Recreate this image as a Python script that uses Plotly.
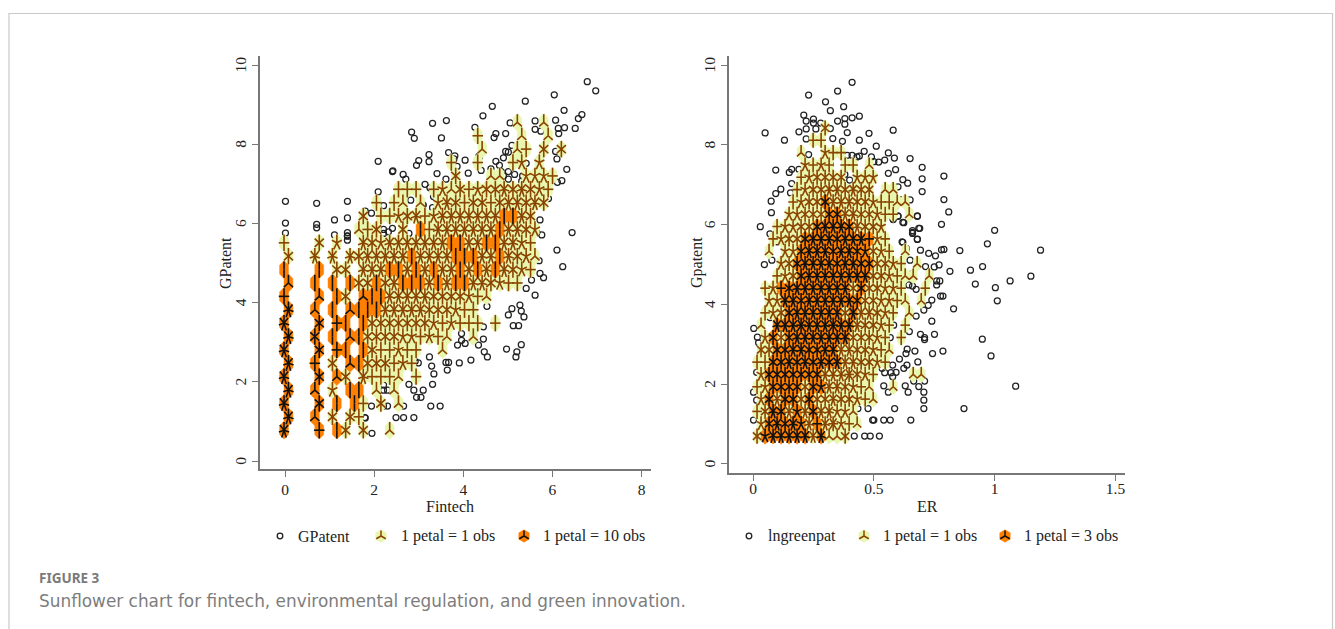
import math
import plotly.graph_objects as go

# ---------- data ----------
# Each row string is one horizontal row of sunflower cells, bottom row first.
# digit = light cell with that many petals, letter = dark cell (a=1, b=2, ... g=7), dot = empty.
LEFT_ROWS = [
    "g...d.b6.6..3",
    "g..c.6.64",
    "g...f.b.b4.6.3",
    "g..c.5.bb.3.3",
    "g...f.c6.74443.4",
    "g..d.6.cb666454",
    "g...f.db.b644544..3",
    "g..f.b.cb6666554543..3",
    "g...f.db.b6666666545444.4",
    "g..c.b.cbbb77777666544",
    "d...c.b6.cbb777776666543",
    "c..b.b.b66b67bbb7b7bb776544",
    "b...b.66.777bb7b7b77b7b7b7654",
    "6..7.7.7677777b7777bbb77b7653",
    "4...6.5..7657777777bb77bb7754",
    "........346..6.b47777777b7765",
    ".........6.4456745" + "7777777bb76",
    "..........4.43.3.5" + "76466" + "4677676",
    ".............444.453" + "64566767654",
    "..................." + "6...33..5554",
    "...................4..4...45.5",
    "......................3...34.6.6",
    "......................4....3..3",
    "..........................3..3",
]
RIGHT_ROWS = [
    "6eggggg7g336",
    "5fgfge7d78543",
    "46gf7e7f77553",
    "5f7ff6f66766543",
    "45ffff6fe776543..3",
    "5fffffff7778654....33",
    "44ffgfgfgfg776654",
    "66ffggffgg7766543",
    ".5f6fggggggg66654.4",
    "3.ggghggghgg76654.4",
    ".456fgggggg6g77654.3",
    ".55ggfggggggf665543.3",
    ".45dfggggggg6f66554..4",
    "..456fgggggggg665433.3",
    "...56fggggfggff6654.3",
    ".3.55fgggfggfe654.3",
    "..4566fgggfgggd54",
    "..45566fgggf7665",
    "....55666ff7766544.3",
    "....4566f7776654433",
    ".....4566776766.33",
    ".....456666.555",
    "......5454.44.3",
    ".....3..544",
    ".......44",
    "........6",
]
LEFT_POINTS = [
    (6.78,9.58),(6.97,9.35),(6.04,9.25),(5.39,9.09),(4.65,8.96),(4.44,8.72),(6.26,8.86),(6.66,8.75),(6.58,8.65),
    (6.07,8.61),(5.61,8.59),(5.05,8.54),(3.62,8.60),(3.31,8.53),(2.84,8.31),(2.90,8.15),(3.51,8.16),(4.26,8.43),
    (4.73,8.27),(4.69,8.17),(4.95,8.27),(5.61,8.38),(5.74,8.33),(6.13,8.40),(6.27,8.42),(6.51,8.40),(6.14,8.27),
    (5.09,7.97),(4.95,7.82),(5.01,7.80),(4.90,7.66),(6.07,7.82),(6.10,7.63),(6.32,7.37),(6.21,7.08),(6.11,7.04),
    (3.67,7.79),(3.81,7.71),(3.23,7.74),(3.23,7.56),(3.00,7.59),(2.95,7.47),(2.09,7.57),(2.41,7.31),(2.42,7.33),
    (2.65,7.24),(2.71,7.12),(3.41,7.26),(3.86,7.44),(4.04,7.60),(3.79,7.63),(4.35,7.70),(4.36,7.68),(4.73,7.57),
    (4.81,7.47),(4.62,7.38),(4.40,7.34),(4.11,7.27),(4.85,7.31),(5.01,7.31),(4.90,7.20),(5.01,7.12),(5.15,7.24),
    (5.33,7.20),(5.31,7.07),(5.41,7.52),(3.61,7.12),(2.09,6.80),(1.40,6.56),(2.71,6.86),(3.25,6.90),(3.14,6.99),
    (3.33,6.68),(2.82,6.59),(3.10,6.47),(3.09,6.46),(3.31,6.40),(2.21,6.45),(1.80,6.31),(1.94,6.26),(1.40,6.14),
    (2.21,5.85),(2.21,5.75),(2.32,5.79),(2.41,5.88),(1.40,5.77),(1.40,5.69),(1.40,5.58),(2.78,5.75),(2.71,5.41),
    (4.90,6.87),(5.91,6.63),(5.81,6.51),(5.72,6.09),(5.65,5.77),(5.76,5.71),(6.44,5.77),(6.10,5.33),(5.70,5.06),
    (6.23,4.91),(5.72,4.74),(5.80,4.63),(5.53,4.57),(5.41,4.36),(5.61,4.19),(5.27,3.94),(5.09,3.85),(5.01,3.69),
    (5.30,3.79),(5.36,3.64),(5.12,3.42),(5.24,3.42),(4.53,3.91),(4.26,3.60),(4.23,3.42),(4.45,3.39),(4.45,3.08),
    (3.55,3.25),(3.96,3.22),(3.96,3.05),(4.04,2.97),(3.87,2.93),(4.34,2.93),(4.47,2.76),(4.54,2.63),(4.97,2.83),
    (5.20,2.76),(5.30,2.94),(5.18,2.63),(4.17,2.55),(3.91,2.48),(3.67,2.49),(3.61,2.49),(3.64,2.30),(3.24,2.63),
    (2.66,2.70),(2.92,2.52),(2.99,2.48),(3.29,2.40),(3.34,2.20),(3.31,1.94),(2.78,1.94),(1.94,2.19),(2.89,1.79),
    (3.10,1.79),(2.21,1.79),(2.30,1.79),(2.21,1.92),(2.95,1.61),(3.05,1.61),(2.30,1.39),(2.66,1.39),(1.94,1.39),
    (2.21,1.39),(3.27,1.39),(3.48,1.39),(1.79,1.10),(2.49,1.10),(2.66,1.10),(2.89,1.10),(1.95,0.70),(1.80,1.09),
    (0.01,6.56),(0.01,6.01),(0.01,5.76),(0.71,6.51),(0.71,5.98),(0.71,5.89),(1.11,6.09),(1.11,5.71),(1.40,5.68),
]
RIGHT_POINTS = [
    (0.41,9.57),(0.35,9.35),(0.23,9.25),(0.30,9.08),(0.375,8.96),(0.32,8.86),(0.21,8.75),(0.44,8.72),(0.41,8.68),
    (0.38,8.66),(0.35,8.60),(0.25,8.65),(0.22,8.60),(0.25,8.55),(0.28,8.55),(0.38,8.52),(0.22,8.40),(0.19,8.33),
    (0.26,8.40),(0.32,8.41),(0.05,8.30),(0.39,8.31),(0.48,8.29),(0.58,8.37),(0.22,8.15),(0.33,8.16),(0.37,8.09),
    (0.13,8.12),(0.44,8.12),(0.51,7.97),(0.46,7.84),(0.56,7.80),(0.39,7.74),(0.41,7.74),(0.43,7.70),(0.44,7.72),
    (0.49,7.70),(0.50,7.58),(0.52,7.57),(0.545,7.62),(0.585,7.67),(0.65,7.66),(0.70,7.44),(0.59,7.38),(0.56,7.29),
    (0.70,7.15),(0.79,7.22),(0.62,7.13),(0.64,7.04),(0.70,6.83),(0.79,6.63),(0.81,6.32),(0.78,6.01),(1.00,5.86),
    (0.97,5.52),(0.68,6.22),(0.69,5.91),(0.66,5.85),(0.66,5.78),(0.68,5.64),(0.62,5.56),(0.62,6.06),(0.60,6.22),
    (0.58,6.14),(0.59,6.47),(0.65,6.62),(0.53,6.45),(0.52,6.16),(0.60,6.95),(0.61,6.62),(0.094,7.37),(0.15,7.31),
    (0.16,7.39),(0.19,7.39),(0.16,7.03),(0.115,6.89),(0.094,6.78),(0.155,6.80),(0.075,6.59),(0.076,6.30),(0.03,5.95),
    (0.07,5.77),(0.10,5.57),(0.23,7.76),(0.32,7.51),(0.40,7.12),(0.38,7.26),(1.19,5.36),(0.047,5.0),(0.078,5.11),
    (0.053,4.40),(0.057,4.40),(0.057,3.89),(0.07,3.67),(0.003,3.40),(0.018,3.18),(0.023,3.04),(0.043,2.84),(0.015,2.30),
    (0.002,1.80),(0.015,1.60),(0.002,1.10),(0.856,5.35),(0.79,5.38),(0.78,5.37),(0.727,5.28),(0.755,5.22),(0.815,4.83),
    (0.90,4.86),(0.95,4.95),(1.064,4.59),(1.15,4.71),(0.92,4.51),(1.003,4.42),(1.011,4.09),(0.83,3.89),(0.949,3.13),
    (0.985,2.71),(1.087,1.95),(0.873,1.39),(0.786,2.83),(0.743,2.77),(0.74,3.58),(0.751,3.25),(0.693,3.25),(0.71,3.17),
    (0.71,3.12),(0.66,5.81),(0.686,5.91),(0.68,5.63),(0.617,5.57),(0.635,5.40),(0.693,5.36),(0.60,6.21),(0.59,6.46),
    (0.58,6.13),(0.624,6.05),(0.68,6.21),(0.65,5.11),(0.714,4.95),(0.75,4.94),(0.77,4.99),(0.66,4.78),(0.76,4.59),
    (0.773,4.59),(0.76,4.49),(0.645,4.49),(0.66,4.46),(0.675,4.38),(0.61,4.11),(0.62,4.11),(0.74,4.11),(0.776,4.21),
    (0.786,4.21),(0.725,3.98),(0.707,3.86),(0.675,3.71),(0.582,3.48),(0.647,3.32),(0.568,3.17),(0.638,2.88),(0.67,2.83),
    (0.633,2.77),(0.606,2.63),(0.682,2.56),(0.578,2.48),(0.637,2.48),(0.624,2.40),(0.465,2.30),(0.534,2.40),(0.545,2.29),
    (0.571,2.29),(0.592,2.30),(0.578,2.19),(0.665,2.08),(0.71,2.08),(0.541,1.96),(0.63,1.96),(0.686,1.94),(0.56,1.80),
    (0.642,1.80),(0.707,1.80),(0.465,1.60),(0.707,1.60),(0.434,1.39),(0.476,1.39),(0.586,1.39),(0.707,1.39),(0.495,1.10),
    (0.50,1.10),(0.541,1.10),(0.568,1.10),(0.653,1.10),(0.419,0.70),(0.462,0.70),(0.485,0.70),(0.523,0.70),
]
LEFT_XTICKS = [0, 2, 4, 6, 8]
RIGHT_XTICKS = [0, 0.5, 1, 1.5]
RIGHT_XLABELS = ["0", "0.5", "1", "1.5"]
YTICKS = [0, 2, 4, 6, 8, 10]
LEFT_LEGEND = ["GPatent", "1 petal = 1 obs", "1 petal = 10 obs"]
RIGHT_LEGEND = ["lngreenpat", "1 petal = 1 obs", "1 petal = 3 obs"]

# ---------- styles ----------
W, H = 1335, 629
LIGHT, DARK = "#E9F6AE", "#FF8000"
BROWN, BLACK = "#8A4300", "#111111"
AXIS = "#777777"
TEXT = "#222222"
SERIF = "Liberation Serif"
SANS = "DejaVu Sans"

LEFT_BOX = dict(x0=260, x1=651, y0=56, y1=469)
RIGHT_BOX = dict(x0=729, x1=1124.5, y0=56, y1=473)
LEFT_RANGE = dict(x=(-0.561, 8.21), y=(-0.2, 10.23))
RIGHT_RANGE = dict(x=(-0.0995, 1.5375), y=(-0.226, 10.23))
# lattice: origin, same-row spacing, row spacing (data units)
LEFT_GRID = dict(x0=-0.022, dx=0.1975, y0=0.78, dy=0.338)
RIGHT_GRID = dict(x0=0.0166, dx=0.03315, y0=0.70, dy=0.309)


def cells(rows, grid):
    """Expand the row strings into cell centres and petal counts."""
    out = []
    for j, row in enumerate(rows):
        for k, ch in enumerate(row):
            if ch == ".":
                continue
            x = grid["x0"] + grid["dx"] * (k + 0.5 * (j % 2))
            y = grid["y0"] + grid["dy"] * j
            if ch.isdigit():
                out.append((x, y, int(ch), False))
            else:
                out.append((x, y, ord(ch) - 96, True))
    return out


def hex_path(c, w, h):
    xs, ys = [], []
    for dx, dy in [(0, .5), (.5, .25), (.5, -.25), (0, -.5), (-.5, -.25), (-.5, .25), (0, .5)]:
        xs.append(c[0] + dx * w)
        ys.append(c[1] + dy * h)
    return xs + [None], ys + [None]


def petal_path(c, n, a, b):
    xs, ys = [], []
    for i in range(n):
        t = math.pi / 2 + 2 * math.pi * i / n
        xs += [c[0], c[0] + a * math.cos(t), None]
        ys += [c[1], c[1] + b * math.sin(t), None]
    return xs, ys


fig = go.Figure()


def panel(rows, points, grid, xa, ya):
    w, h = grid["dx"], grid["dy"] / 0.75
    cs = cells(rows, grid)
    fig.add_trace(go.Scatter(x=[p[0] for p in points], y=[p[1] for p in points], mode="markers",
                             marker=dict(symbol="circle-open", size=6, color=TEXT, line=dict(width=1.25, color=TEXT)),
                             xaxis=xa, yaxis=ya, showlegend=False, hoverinfo="skip"))
    for dark, color in [(False, LIGHT), (True, DARK)]:
        X, Y = [], []
        for c in cs:
            if c[3] == dark:
                a, b = hex_path(c, w, h)
                X += a
                Y += b
        fig.add_trace(go.Scatter(x=X, y=Y, mode="lines", fill="toself", fillcolor=color,
                                 line=dict(width=0.5, color=color), xaxis=xa, yaxis=ya,
                                 showlegend=False, hoverinfo="skip"))
    for dark, color in [(False, BROWN), (True, BLACK)]:
        X, Y = [], []
        for c in cs:
            if c[3] == dark:
                a, b = petal_path(c, c[2], 0.6 * w, 0.46 * h)
                X += a
                Y += b
        fig.add_trace(go.Scatter(x=X, y=Y, mode="lines", line=dict(width=1.6, color=color),
                                 xaxis=xa, yaxis=ya, showlegend=False, hoverinfo="skip",
                                 connectgaps=False))


panel(LEFT_ROWS, LEFT_POINTS, LEFT_GRID, "x", "y")
panel(RIGHT_ROWS, RIGHT_POINTS, RIGHT_GRID, "x2", "y2")


def fx(v):
    return v / W


def fy(v):
    return 1 - v / H


shapes = [dict(type="path", xref="paper", yref="paper",
               path=f"M {fx(9)} {fy(629)} L {fx(9)} {fy(13.5)} L {fx(1332.5)} {fy(13.5)} L {fx(1332.5)} {fy(629)}",
               line=dict(color="#C9C9C9", width=1.2))]
annotations = []


def label(text, x, y, family, size, color, xanchor="center", angle=0):
    annotations.append(dict(text=text, xref="paper", yref="paper", x=fx(x), y=fy(y), showarrow=False,
                            xanchor=xanchor, yanchor="middle", textangle=angle,
                            font=dict(family=family, size=size, color=color)))


def legend_key_flower(cx, cy, fill, stroke):
    pts = [(0, -6.5), (5.5, -3.2), (5.5, 3.2), (0, 6.5), (-5.5, 3.2), (-5.5, -3.2)]
    path = "M " + " L ".join(f"{fx(cx + a)} {fy(cy + b)}" for a, b in pts) + " Z"
    shapes.append(dict(type="path", xref="paper", yref="paper", path=path, fillcolor=fill,
                       line=dict(width=0, color=fill)))
    for i in range(3):
        t = math.pi / 2 + 2 * math.pi * i / 3
        shapes.append(dict(type="line", xref="paper", yref="paper", x0=fx(cx), y0=fy(cy),
                           x1=fx(cx + 5.5 * math.cos(t)), y1=fy(cy - 5.5 * math.sin(t)),
                           line=dict(color=stroke, width=1.5)))


def legend(names, xs_key, xs_text, cy):
    r = 2.8
    shapes.append(dict(type="circle", xref="paper", yref="paper", x0=fx(xs_key[0] - r), x1=fx(xs_key[0] + r),
                       y0=fy(cy + r), y1=fy(cy - r), line=dict(color=TEXT, width=1.3)))
    legend_key_flower(xs_key[1], cy, LIGHT, BROWN)
    legend_key_flower(xs_key[2], cy, DARK, BLACK)
    for name, tx in zip(names, xs_text):
        label(name, tx - 2.5, cy, SERIF, 16, TEXT, xanchor="left")


legend(LEFT_LEGEND, (280, 381, 524), (298, 401, 543), 536)
legend(RIGHT_LEGEND, (749, 864, 1005), (768, 883, 1024), 536)

label("Fintech", 449.5, 506, SERIF, 16, TEXT)
label("ER", 927, 506, SERIF, 16, TEXT)
label("GPatent", 225, 263, SERIF, 16, TEXT, angle=-90)
label("Gpatent", 697, 263, SERIF, 16, TEXT, angle=-90)
label("<b>FIGURE 3</b>", 36.5, 577.5, "Noto Sans", 13.5, "#7A7A7A", xanchor="left")
label("Sunflower chart for fintech, environmental regulation, and green innovation.",
      36.5, 600.5, SANS, 16.9, "#7D7D7D", xanchor="left")


def xaxis(box, rng, ticks, labels, anchor, standoff):
    return dict(domain=[fx(box["x0"]), fx(box["x1"])], range=list(rng), anchor=anchor, tickmode="array",
                tickvals=ticks, ticktext=labels, ticks="outside", ticklen=6, tickwidth=1, tickcolor=AXIS,
                showgrid=False, zeroline=False, showline=True, linecolor=AXIS, linewidth=1.5, automargin=False,
                ticklabelstandoff=standoff, tickfont=dict(family=SERIF, size=15.5, color=TEXT))


def yaxis(box, rng, ticks, anchor):
    return dict(domain=[1 - box["y1"] / H, 1 - box["y0"] / H], range=list(rng), anchor=anchor, tickmode="array",
                tickvals=ticks, ticks="outside", ticklen=6, tickwidth=1, tickcolor=AXIS, tickangle=-90,
                ticklabelshift=2, automargin=False,
                showgrid=False, zeroline=False, showline=True, linecolor=AXIS, linewidth=1.5,
                tickfont=dict(family=SERIF, size=15.5, color=TEXT))


fig.update_layout(
    width=W, height=H, autosize=False, margin=dict(l=0, r=0, t=0, b=0, autoexpand=False),
    paper_bgcolor="white", plot_bgcolor="white", showlegend=False,
    xaxis=xaxis(LEFT_BOX, LEFT_RANGE["x"], LEFT_XTICKS, [str(t) for t in LEFT_XTICKS], "y", 0),
    yaxis=yaxis(LEFT_BOX, LEFT_RANGE["y"], YTICKS, "x"),
    xaxis2=xaxis(RIGHT_BOX, RIGHT_RANGE["x"], RIGHT_XTICKS, RIGHT_XLABELS, "y2", -5),
    yaxis2=yaxis(RIGHT_BOX, RIGHT_RANGE["y"], YTICKS, "x2"),
    shapes=shapes, annotations=annotations,
)

fig.write_html("out.html", config={"displayModeBar": False},
               post_script="document.body.style.margin='0';document.documentElement.style.overflow='hidden';")
